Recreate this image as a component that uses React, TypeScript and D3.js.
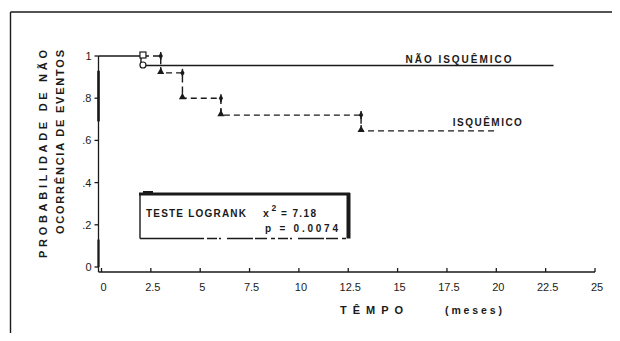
import React, { useRef, useEffect } from "react";
import { select, scaleLinear, line, curveStepAfter, symbol, symbolTriangle, symbolDiamond } from "d3";

// curvas de Kaplan-Meier
const naoTempo = [0, 2.0, 22.9];
const naoProb = [1, 0.955, 0.955];
const isqTempo = [0, 3.0, 4.1, 6.05, 13.15, 20.0];
const isqProb = [1, 0.92, 0.8, 0.72, 0.645, 0.645];
const xTicks = [0, 2.5, 5, 7.5, 10, 12.5, 15, 17.5, 20, 22.5, 25];
const xTickLabels = ["0", "2.5", "5", "7.5", "10", "12.5", "15", "17.5", "20", "22.5", "25"];
const yTicks = [0, 0.2, 0.4, 0.6, 0.8, 1];
const yTickLabels = ["0", ".2", ".4", ".6", ".8", "1"];
const censura = [2.1];

const INK = "#1a1a1a";
const FONT = "'Liberation Sans', Arial, sans-serif";

function App() {
  const svgRef = useRef(null);

  useEffect(() => {
    const svg = select(svgRef.current);
    svg.selectAll("*").remove();

    const x = scaleLinear().domain([0, 25]).range([101.5, 595]);
    const y = scaleLinear().domain([0, 1]).range([267, 56]);
    const axisY = y(0) + 5;
    const yAxisX = x(0) - 3;

    // moldura
    svg.append("line").attr("x1", 10.5).attr("x2", 620).attr("y1", 12).attr("y2", 12)
      .attr("stroke", INK).attr("stroke-width", 1.4);
    svg.append("line").attr("x1", 10.5).attr("x2", 10.5).attr("y1", 12).attr("y2", 341)
      .attr("stroke", INK).attr("stroke-width", 1.4);
    svg.append("line").attr("x1", 616).attr("x2", 616).attr("y1", 41).attr("y2", 325)
      .attr("stroke", INK).attr("stroke-width", 1.4);

    // eixo y
    svg.append("line").attr("x1", yAxisX).attr("x2", yAxisX).attr("y1", y(1)).attr("y2", axisY)
      .attr("stroke", INK).attr("stroke-width", 1.3);
    svg.append("line").attr("x1", yAxisX).attr("x2", yAxisX).attr("y1", y(0.93)).attr("y2", y(0.69))
      .attr("stroke", INK).attr("stroke-width", 2.6);
    svg.append("line").attr("x1", yAxisX).attr("x2", yAxisX).attr("y1", y(0.13)).attr("y2", y(0))
      .attr("stroke", INK).attr("stroke-width", 2.2);
    yTicks.forEach((v, i) => {
      svg.append("line").attr("x1", yAxisX - 4).attr("x2", yAxisX).attr("y1", y(v)).attr("y2", y(v))
        .attr("stroke", INK).attr("stroke-width", 1.3);
      svg.append("text").attr("x", yAxisX - 7).attr("y", y(v) + 4)
        .attr("text-anchor", "end").attr("font-family", FONT).attr("font-size", 11)
        .attr("fill", INK).text(yTickLabels[i]);
    });

    // eixo x
    svg.append("line").attr("x1", yAxisX).attr("x2", x(25)).attr("y1", axisY).attr("y2", axisY)
      .attr("stroke", INK).attr("stroke-width", 1.3);
    xTicks.forEach((v, i) => {
      svg.append("line").attr("x1", x(v)).attr("x2", x(v)).attr("y1", axisY - 4).attr("y2", axisY)
        .attr("stroke", INK).attr("stroke-width", 1.3);
      svg.append("text").attr("x", x(v) + 2).attr("y", axisY + 19)
        .attr("text-anchor", "middle").attr("font-family", FONT).attr("font-size", 11)
        .attr("fill", INK).text(xTickLabels[i]);
    });

    // títulos dos eixos
    svg.append("text").attr("x", 340).attr("y", 314).attr("font-family", FONT)
      .attr("font-size", 11).attr("font-weight", "bold").attr("fill", INK)
      .attr("textLength", 63).attr("lengthAdjust", "spacing").text("TÊMPO");
    svg.append("text").attr("x", 445).attr("y", 314).attr("font-family", FONT)
      .attr("font-size", 10.5).attr("font-weight", "bold").attr("fill", INK)
      .attr("textLength", 57).attr("lengthAdjust", "spacing").text("(meses)");

    svg.append("text").attr("transform", "translate(47,154) rotate(-90)")
      .attr("text-anchor", "middle").attr("font-family", FONT).attr("font-size", 11)
      .attr("font-weight", "bold").attr("fill", INK)
      .attr("textLength", 208).attr("lengthAdjust", "spacing").text("PROBABILIDADE DE NÃO");
    svg.append("text").attr("transform", "translate(64,142) rotate(-90)")
      .attr("text-anchor", "middle").attr("font-family", FONT).attr("font-size", 11)
      .attr("font-weight", "bold").attr("fill", INK)
      .attr("textLength", 184).attr("lengthAdjust", "spacing").text("OCORRÊNCIA DE EVENTOS");

    // curvas
    const passo = line().curve(curveStepAfter).x((d) => d[0]).y((d) => d[1]);
    const naoPts = naoTempo.map((t, i) => [t === 0 ? yAxisX : x(t), y(naoProb[i])]);
    const isqPts = isqTempo.map((t, i) => [t === 0 ? yAxisX : x(t), y(isqProb[i])]);

    svg.append("path").attr("d", passo(naoPts)).attr("fill", "none")
      .attr("stroke", INK).attr("stroke-width", 1.4);
    // tracejado a partir da censura
    const isqDash = [[x(censura[0]), y(1)], ...isqPts.slice(1)];
    svg.append("path").attr("d", passo(isqDash)).attr("fill", "none")
      .attr("stroke", INK).attr("stroke-width", 1.4).attr("stroke-dasharray", "6,4");

    // marcadores nos degraus
    const tri = symbol().type(symbolTriangle).size(22);
    const dia = symbol().type(symbolDiamond).size(16);
    isqTempo.slice(1, -1).forEach((t, i) => {
      const yTop = y(isqProb[i]);
      const yBot = y(isqProb[i + 1]);
      svg.append("line").attr("x1", x(t)).attr("x2", x(t)).attr("y1", yTop - 4).attr("y2", yTop + 4)
        .attr("stroke", INK).attr("stroke-width", 1.4);
      svg.append("path").attr("d", dia()).attr("transform", `translate(${x(t)},${yTop})`).attr("fill", INK);
      svg.append("path").attr("d", tri()).attr("transform", `translate(${x(t)},${yBot - 1})`).attr("fill", INK);
      svg.append("line").attr("x1", x(t)).attr("x2", x(t)).attr("y1", yBot - 6).attr("y2", yBot)
        .attr("stroke", INK).attr("stroke-width", 1.3);
    });

    // censuras (abertas)
    censura.forEach((t) => {
      svg.append("rect").attr("x", x(t) - 3).attr("y", y(1) - 4).attr("width", 6).attr("height", 6)
        .attr("fill", "white").attr("stroke", INK).attr("stroke-width", 1.2);
      svg.append("circle").attr("cx", x(t)).attr("cy", y(naoProb[1]) - 0.5).attr("r", 3)
        .attr("fill", "white").attr("stroke", INK).attr("stroke-width", 1.2);
    });

    // rótulos das curvas
    svg.append("text").attr("x", x(15.4)).attr("y", y(naoProb[1]) - 2.5).attr("font-family", FONT)
      .attr("font-size", 10).attr("font-weight", "bold").attr("fill", INK)
      .attr("textLength", 106).attr("lengthAdjust", "spacing").text("NÃO  ISQUÊMICO");
    svg.append("text").attr("x", x(17.8)).attr("y", y(isqProb[4]) - 5).attr("font-family", FONT)
      .attr("font-size", 10).attr("font-weight", "bold").attr("fill", INK)
      .attr("textLength", 69).attr("lengthAdjust", "spacing").text("ISQUÊMICO");

    // caixa do teste
    const box = svg.append("g");
    box.append("line").attr("x1", 140).attr("x2", 140).attr("y1", 194).attr("y2", 238.5)
      .attr("stroke", INK).attr("stroke-width", 1.4);
    box.append("line").attr("x1", 140).attr("x2", 200).attr("y1", 238.5).attr("y2", 238.5)
      .attr("stroke", INK).attr("stroke-width", 1.3);
    box.append("line").attr("x1", 200).attr("x2", 348).attr("y1", 238.5).attr("y2", 238.5)
      .attr("stroke", INK).attr("stroke-width", 1.5).attr("stroke-dasharray", "4,3,10,2,2,6,26,2,12,4");
    box.append("line").attr("x1", 139).attr("x2", 350).attr("y1", 194).attr("y2", 194)
      .attr("stroke", INK).attr("stroke-width", 3.2);
    box.append("line").attr("x1", 143).attr("x2", 153).attr("y1", 192).attr("y2", 192)
      .attr("stroke", INK).attr("stroke-width", 2);
    box.append("line").attr("x1", 348.5).attr("x2", 348.5).attr("y1", 193).attr("y2", 238.5)
      .attr("stroke", INK).attr("stroke-width", 4);

    box.append("text").attr("x", 146).attr("y", 216.5).attr("font-family", FONT)
      .attr("font-size", 10).attr("font-weight", "bold").attr("fill", INK)
      .attr("textLength", 100).attr("lengthAdjust", "spacing").text("TESTE LOGRANK");
    box.append("text").attr("x", 263).attr("y", 216.5).attr("font-family", FONT)
      .attr("font-size", 10.5).attr("font-weight", "bold").attr("fill", INK).text("x");
    box.append("text").attr("x", 271.5).attr("y", 210.5).attr("font-family", FONT)
      .attr("font-size", 8.5).attr("font-weight", "bold").attr("fill", INK).text("2");
    box.append("text").attr("x", 281).attr("y", 216.5).attr("font-family", FONT)
      .attr("font-size", 10).attr("font-weight", "bold").attr("fill", INK)
      .attr("textLength", 35).attr("lengthAdjust", "spacing").text("= 7.18");
    box.append("text").attr("x", 265).attr("y", 231.5).attr("font-family", FONT)
      .attr("font-size", 10).attr("font-weight", "bold").attr("fill", INK)
      .attr("textLength", 73).attr("lengthAdjust", "spacing").text("p = 0.0074");
  }, []);

  return (
    <div style={{ margin: -8 }}>
      <svg ref={svgRef} width={620} height={341} style={{ display: "block", background: "white" }}></svg>
    </div>
  );
}

export default App;
